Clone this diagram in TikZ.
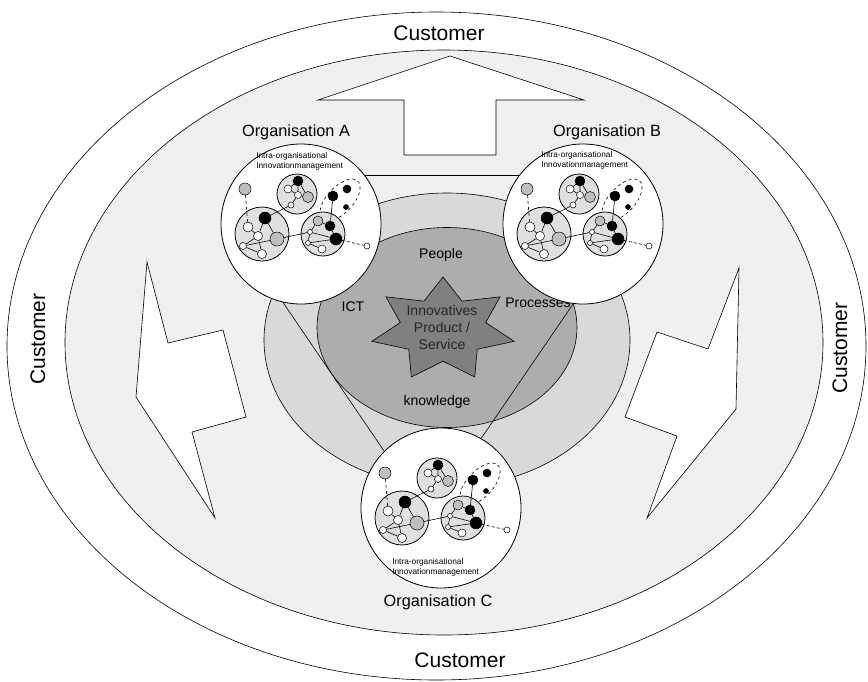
\documentclass[tikz,border=0pt]{standalone}
\usepackage{fontspec}
\setmainfont{Liberation Sans}
\usetikzlibrary{positioning}

% network of one organisation, #1 = prefix of the node names, #2 = centre
\newcommand{\orgnet}[2]{%
  \begin{scope}[shift={#2}]
    \draw[dashed] (39,-24) ellipse [x radius=26,y radius=13,rotate=47];
    \draw[subfill] (-39,10) circle (27);
    \draw[subfill] (-4,-30) circle (20);
    \draw[subfill] (22,10) circle (22);
    \node[dotg,minimum size=12] (#1G) at (-56,-35) {};
    \node[dotb,minimum size=12] (#1L1) at (-36,-6) {};
    \node[dotw,minimum size=10] (#1L2) at (-53,3) {};
    \node[dotw,minimum size=9] (#1L3) at (-43,12) {};
    \node[dotg,minimum size=14] (#1L4) at (-24,15) {};
    \node[dotw,minimum size=7] (#1L5) at (-58,22) {};
    \node[dotw,minimum size=9] (#1L6) at (-39,30) {};
    \node[dotb,minimum size=10] (#1T1) at (-3,-43) {};
    \node[dotw,minimum size=8] (#1T2) at (-13,-35) {};
    \node[dotw,minimum size=7] (#1T3) at (-3,-29) {};
    \node[dotg,minimum size=11] (#1T4) at (7,-27) {};
    \node[dotw,minimum size=6] (#1T5) at (-10,-19) {};
    \node[dotg,minimum size=10] (#1R1) at (17,-3) {};
    \node[dotb,minimum size=10] (#1R2) at (29,2) {};
    \node[dotb,minimum size=12] (#1R3) at (35,15) {};
    \node[dotw,minimum size=5] (#1R4) at (9,8) {};
    \node[dotw,minimum size=8] (#1R5) at (21,25) {};
    \node[dotw,minimum size=5] (#1R6) at (7,19) {};
    \node[dotb,minimum size=10] (#1E1) at (32,-28) {};
    \node[dotb,minimum size=8] (#1E2) at (46,-35) {};
    \node[dotb,minimum size=5] (#1E3) at (45,-17) {};
    \node[dotw,minimum size=6] (#1W) at (66,22) {};
    \draw[dashed] (#1G) -- (#1L2);
    \draw (#1L1) -- (#1L3) (#1L1) -- (#1L4) (#1L2) -- (#1L3) (#1L3) -- (#1L6)
          (#1L5) -- (#1L4) (#1L5) -- (#1L6) (#1L5) -- (#1L3);
    \draw (#1T1) -- (#1T2) (#1T1) -- (#1T3) (#1T2) -- (#1T3) (#1T3) -- (#1T4)
          (#1T3) -- (#1T5) (#1T1) -- (#1T4) (#1T5) -- (#1L1);
    \draw (#1R1) -- (#1R4) (#1R1) -- (#1R2) (#1R4) -- (#1R6) (#1R6) -- (#1R5)
          (#1R2) -- (#1R3) (#1R6) -- (#1R3) (#1R4) -- (#1R3);
    \draw (#1L4) -- (#1R4) (#1E1) -- (#1R2);
    \draw[densely dashed] (#1R3) -- (#1W);
  \end{scope}}

\begin{document}
\begin{tikzpicture}[x=1pt,y=-1pt,line width=0.6pt,
    orgcirc/.style={circle,draw,line width=0.8pt,fill=white,minimum size=160,inner sep=0},
    orgtitle/.style={font=\fontsize{16.3}{18}\selectfont},
    custtext/.style={font=\fontsize{21}{24}\selectfont},
    areatext/.style={font=\fontsize{14}{17}\selectfont},
    smalltext/.style={font=\fontsize{8.3}{10.5}\selectfont,align=left,anchor=north west,inner sep=0},
    subfill/.style={draw,line width=0.8pt,fill=black!12},
    dotw/.style={circle,draw,fill=white,inner sep=0,line width=0.5pt},
    dotg/.style={circle,draw,fill=black!25,inner sep=0,line width=0.5pt},
    dotb/.style={circle,draw,fill=black,inner sep=0,line width=0.5pt},
    bolt/.style={draw,fill=white,line join=miter}]
  \useasboundingbox (0,0) rectangle (868,681);
  % rings
  \draw (436.5,346) ellipse [x radius=429.5,y radius=334];
  \draw[fill=black!6] (444,342.5) ellipse [x radius=379,y radius=292.5];
  % arrow and flashes
  \draw[bolt] (450,56) -- (584,100) -- (496,100) -- (496,155) -- (404,155) -- (404,100) -- (318,100) -- cycle;
  \draw[bolt] (147,262) -- (136,397) -- (215,518) -- (192,432) -- (246,417) -- (223,330) -- (168,343) -- cycle;
  \draw[bolt] (739,268) -- (736,409) -- (647,518) -- (677,436) -- (625,417) -- (657,332) -- (708,349) -- cycle;
  % core
  \draw[fill=black!15] (447,340) ellipse [x radius=183,y radius=147];
  \draw[fill=black!32] (447,327.5) ellipse [x radius=130,y radius=100];
  \draw[fill=black!50] plot[samples at={0,...,13}]
    ({443+(1-0.4*isodd(\x))*73*cos(90+\x*360/14)},{329.6-(1-0.4*isodd(\x))*52.6*sin(90+\x*360/14)}) -- cycle;
  \node[areatext,align=center,text=black!85] (product) at (442,327) {Innovatives\\Product /\\Service};
  \node[areatext] (people) at (441,255) {People};
  \node[areatext] (ict) at (353,307) {ICT};
  \node[areatext] (processes) at (538,303) {Processes};
  \node[areatext] (knowledge) at (437,402) {knowledge};
  % organisations
  \node[orgcirc] (orgA) at (301,224) {};
  \node[orgcirc] (orgB) at (583,224) {};
  \node[orgcirc] (orgC) at (441,508) {};
  \draw (orgA.37) -- (orgB.143);
  \draw (orgA.-103) -- (orgC.135);
  \draw (orgB.-97) -- (orgC.60);
  \orgnet{a}{(301,224)}
  \orgnet{b}{(583,224)}
  \orgnet{c}{(441,508)}
  \node[smalltext] (intraA) at (256,152) {Intra-organisational\\Innovationmanagement};
  \node[smalltext] (intraB) at (541,151) {Intra-organisational\\Innovationmanagement};
  \node[smalltext] (intraC) at (392,558) {Intra-organisational\\Innovationmanagement};
  \node[orgtitle] (titleA) at (296,132) {Organisation A};
  \node[orgtitle] (titleB) at (607,132) {Organisation B};
  \node[orgtitle] (titleC) at (438,602) {Organisation C};
  % customer
  \node[custtext] (custN) at (439,33) {Customer};
  \node[custtext] (custS) at (460,660) {Customer};
  \node[custtext,rotate=90] (custW) at (38,339) {Customer};
  \node[custtext,rotate=90] (custE) at (840,348) {Customer};
\end{tikzpicture}
\end{document}
